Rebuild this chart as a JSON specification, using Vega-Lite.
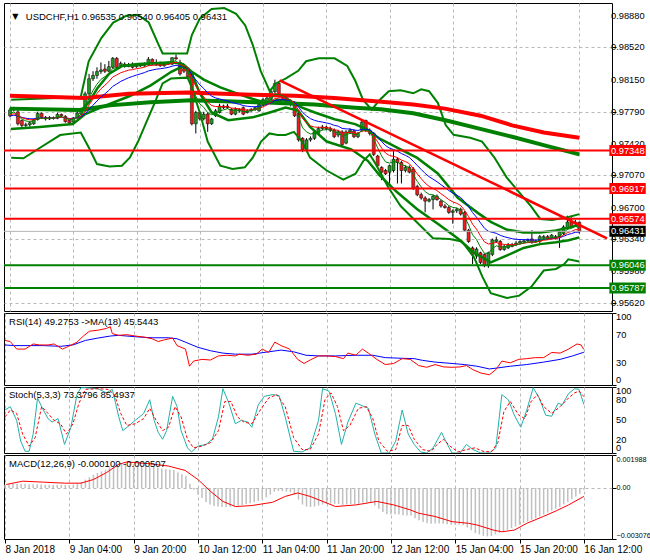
{
"$schema":"https://vega.github.io/schema/vega-lite/v6.json",
"padding":{"left":2,"top":2,"right":0,"bottom":0},
"spacing":2,
"bounds":"flush",
"background":"white",
"config":{"view":{"stroke":"#000000","strokeWidth":1},"font":"Liberation Sans",
"axis":{"labelFont":"Liberation Sans","labelFontSize":9.3,"labelColor":"#000000","tickColor":"#000000","domain":false,"gridColor":"#b8b8b8","gridDash":[3,3],"gridWidth":1},
"text":{"font":"Liberation Sans"}},
"datasets":{
"bars":[
{"i":0,"o":0.97744,"h":0.97836,"l":0.97726,"c":0.9781,"g":0.9777,"r":0.97754,"b":0.9774,"m":0.0002},
{"i":1,"o":0.9781,"h":0.97845,"l":0.97795,"c":0.97825,"g":0.97788,"r":0.97768,"b":0.97751,"m":0.00022},
{"i":2,"o":0.97788,"h":0.9781,"l":0.97634,"c":0.97653,"g":0.97743,"r":0.97745,"b":0.97739,"m":0.00024},
{"i":3,"o":0.9769,"h":0.977,"l":0.97598,"c":0.97634,"g":0.97707,"r":0.97723,"b":0.97726,"m":0.00025},
{"i":4,"o":0.97634,"h":0.97665,"l":0.97598,"c":0.97642,"g":0.97685,"r":0.97707,"b":0.97716,"m":0.00025},
{"i":5,"o":0.97642,"h":0.9768,"l":0.9762,"c":0.97664,"g":0.97678,"r":0.97698,"b":0.9771,"m":0.00024},
{"i":6,"o":0.97653,"h":0.9771,"l":0.9764,"c":0.977,"g":0.97685,"r":0.97698,"b":0.97709,"m":0.00023},
{"i":7,"o":0.977,"h":0.9779,"l":0.9769,"c":0.9777,"g":0.97713,"r":0.97712,"b":0.97717,"m":0.00023},
{"i":8,"o":0.9777,"h":0.9778,"l":0.9771,"c":0.97726,"g":0.97717,"r":0.97715,"b":0.97718,"m":0.00022},
{"i":9,"o":0.97726,"h":0.9774,"l":0.9769,"c":0.97708,"g":0.97714,"r":0.97714,"b":0.97717,"m":0.00021},
{"i":10,"o":0.97708,"h":0.9774,"l":0.97695,"c":0.97722,"g":0.97717,"r":0.97716,"b":0.97718,"m":0.0002},
{"i":11,"o":0.97722,"h":0.97735,"l":0.977,"c":0.97715,"g":0.97716,"r":0.97716,"b":0.97718,"m":0.0002},
{"i":12,"o":0.97715,"h":0.9778,"l":0.97705,"c":0.97759,"g":0.9773,"r":0.97725,"b":0.97723,"m":0.0002},
{"i":13,"o":0.97759,"h":0.9777,"l":0.9773,"c":0.97744,"g":0.97735,"r":0.97729,"b":0.97726,"m":0.0002},
{"i":14,"o":0.97737,"h":0.9775,"l":0.97665,"c":0.97678,"g":0.97716,"r":0.97719,"b":0.9772,"m":0.00019},
{"i":15,"o":0.9769,"h":0.977,"l":0.97642,"c":0.97664,"g":0.97699,"r":0.97708,"b":0.97713,"m":0.00018},
{"i":16,"o":0.97671,"h":0.9773,"l":0.9766,"c":0.97719,"g":0.97706,"r":0.9771,"b":0.97714,"m":0.00018},
{"i":17,"o":0.97719,"h":0.9779,"l":0.9771,"c":0.97774,"g":0.97729,"r":0.97723,"b":0.97722,"m":0.0002},
{"i":18,"o":0.97763,"h":0.97836,"l":0.9775,"c":0.97818,"g":0.97759,"r":0.97742,"b":0.97734,"m":0.00025},
{"i":19,"o":0.978,"h":0.98019,"l":0.9779,"c":0.97993,"g":0.97837,"r":0.97792,"b":0.97766,"m":0.00035},
{"i":20,"o":0.97993,"h":0.9822,"l":0.9797,"c":0.98165,"g":0.97946,"r":0.97867,"b":0.97816,"m":0.0005},
{"i":21,"o":0.98165,"h":0.9825,"l":0.9814,"c":0.98202,"g":0.98031,"r":0.97934,"b":0.97864,"m":0.00065},
{"i":22,"o":0.98202,"h":0.98294,"l":0.98165,"c":0.98246,"g":0.98103,"r":0.97996,"b":0.97912,"m":0.0008},
{"i":23,"o":0.98246,"h":0.9835,"l":0.9822,"c":0.98264,"g":0.98157,"r":0.9805,"b":0.97956,"m":0.0009},
{"i":24,"o":0.98275,"h":0.9833,"l":0.9823,"c":0.9825,"g":0.98188,"r":0.9809,"b":0.97993,"m":0.001},
{"i":25,"o":0.9825,"h":0.98367,"l":0.9824,"c":0.98301,"g":0.98226,"r":0.98132,"b":0.98032,"m":0.0011},
{"i":26,"o":0.98294,"h":0.98411,"l":0.9828,"c":0.98396,"g":0.98283,"r":0.98185,"b":0.98078,"m":0.00125},
{"i":27,"o":0.98396,"h":0.98411,"l":0.98265,"c":0.98294,"g":0.98287,"r":0.98207,"b":0.98105,"m":0.00135},
{"i":28,"o":0.98312,"h":0.9836,"l":0.983,"c":0.98338,"g":0.98304,"r":0.98233,"b":0.98134,"m":0.00142},
{"i":29,"o":0.9833,"h":0.9835,"l":0.9829,"c":0.98305,"g":0.98304,"r":0.98247,"b":0.98155,"m":0.00146},
{"i":30,"o":0.98305,"h":0.98345,"l":0.98295,"c":0.98323,"g":0.9831,"r":0.98262,"b":0.98176,"m":0.00148},
{"i":31,"o":0.9833,"h":0.9835,"l":0.9828,"c":0.98294,"g":0.98305,"r":0.98268,"b":0.98191,"m":0.00146},
{"i":32,"o":0.98301,"h":0.9834,"l":0.9829,"c":0.98323,"g":0.98311,"r":0.98279,"b":0.98207,"m":0.00144},
{"i":33,"o":0.98323,"h":0.9834,"l":0.983,"c":0.98312,"g":0.98311,"r":0.98286,"b":0.9822,"m":0.00141},
{"i":34,"o":0.98312,"h":0.9835,"l":0.983,"c":0.9833,"g":0.98317,"r":0.98295,"b":0.98234,"m":0.00138},
{"i":35,"o":0.98323,"h":0.98411,"l":0.9831,"c":0.98385,"g":0.9834,"r":0.98313,"b":0.98253,"m":0.00136},
{"i":36,"o":0.98385,"h":0.98395,"l":0.9832,"c":0.9833,"g":0.98337,"r":0.98316,"b":0.98263,"m":0.00132},
{"i":37,"o":0.9832,"h":0.98385,"l":0.9831,"c":0.98345,"g":0.98339,"r":0.98322,"b":0.98273,"m":0.00128},
{"i":38,"o":0.98345,"h":0.9836,"l":0.983,"c":0.98312,"g":0.9833,"r":0.9832,"b":0.98278,"m":0.00123},
{"i":39,"o":0.98312,"h":0.98345,"l":0.983,"c":0.9833,"g":0.9833,"r":0.98322,"b":0.98285,"m":0.00118},
{"i":40,"o":0.9833,"h":0.9836,"l":0.9832,"c":0.98348,"g":0.98336,"r":0.98327,"b":0.98293,"m":0.00113},
{"i":41,"o":0.9833,"h":0.9841,"l":0.9832,"c":0.98403,"g":0.98358,"r":0.98342,"b":0.98307,"m":0.00111},
{"i":42,"o":0.98403,"h":0.9844,"l":0.9838,"c":0.9839,"g":0.98369,"r":0.98352,"b":0.98317,"m":0.00108},
{"i":43,"o":0.98349,"h":0.9838,"l":0.982,"c":0.9822,"g":0.98319,"r":0.98326,"b":0.98305,"m":0.00095},
{"i":44,"o":0.9828,"h":0.983,"l":0.9823,"c":0.9825,"g":0.98296,"r":0.98311,"b":0.98298,"m":0.00082},
{"i":45,"o":0.9826,"h":0.9829,"l":0.9816,"c":0.98184,"g":0.98259,"r":0.98285,"b":0.98284,"m":0.0007},
{"i":46,"o":0.9822,"h":0.9823,"l":0.97634,"c":0.97653,"g":0.98057,"r":0.98159,"b":0.98205,"m":0.00025},
{"i":47,"o":0.97653,"h":0.978,"l":0.97543,"c":0.97781,"g":0.97965,"r":0.98083,"b":0.98152,"m":-0.0001},
{"i":48,"o":0.97781,"h":0.978,"l":0.9769,"c":0.97708,"g":0.97879,"r":0.98008,"b":0.98096,"m":-0.0004},
{"i":49,"o":0.97708,"h":0.9779,"l":0.9769,"c":0.97763,"g":0.9784,"r":0.97959,"b":0.98054,"m":-0.0006},
{"i":50,"o":0.97763,"h":0.9778,"l":0.97561,"c":0.97653,"g":0.97778,"r":0.97898,"b":0.98004,"m":-0.00085},
{"i":51,"o":0.97653,"h":0.9772,"l":0.9764,"c":0.97708,"g":0.97755,"r":0.9786,"b":0.97967,"m":-0.001},
{"i":52,"o":0.97744,"h":0.9782,"l":0.9773,"c":0.978,"g":0.9777,"r":0.97848,"b":0.97946,"m":-0.00108},
{"i":53,"o":0.97781,"h":0.9788,"l":0.9777,"c":0.97854,"g":0.97798,"r":0.97849,"b":0.97935,"m":-0.00112},
{"i":54,"o":0.97854,"h":0.9787,"l":0.9782,"c":0.97836,"g":0.97811,"r":0.97846,"b":0.97923,"m":-0.00115},
{"i":55,"o":0.97836,"h":0.9788,"l":0.9782,"c":0.97854,"g":0.97825,"r":0.97848,"b":0.97914,"m":-0.00115},
{"i":56,"o":0.97817,"h":0.9783,"l":0.9775,"c":0.97762,"g":0.97804,"r":0.97831,"b":0.97895,"m":-0.00113},
{"i":57,"o":0.97762,"h":0.9784,"l":0.9775,"c":0.97817,"g":0.97808,"r":0.97828,"b":0.97885,"m":-0.0011},
{"i":58,"o":0.97817,"h":0.9783,"l":0.9778,"c":0.97799,"g":0.97805,"r":0.97822,"b":0.97874,"m":-0.00106},
{"i":59,"o":0.97836,"h":0.9785,"l":0.9775,"c":0.97762,"g":0.97791,"r":0.9781,"b":0.9786,"m":-0.00102},
{"i":60,"o":0.9778,"h":0.9782,"l":0.9777,"c":0.97799,"g":0.97794,"r":0.97808,"b":0.97852,"m":-0.00097},
{"i":61,"o":0.97799,"h":0.9783,"l":0.9779,"c":0.97817,"g":0.97802,"r":0.9781,"b":0.97848,"m":-0.00092},
{"i":62,"o":0.97817,"h":0.9785,"l":0.978,"c":0.97836,"g":0.97813,"r":0.97815,"b":0.97846,"m":-0.00086},
{"i":63,"o":0.97799,"h":0.9789,"l":0.9779,"c":0.97872,"g":0.97833,"r":0.97826,"b":0.97852,"m":-0.00078},
{"i":64,"o":0.97872,"h":0.9795,"l":0.9786,"c":0.97927,"g":0.97864,"r":0.97846,"b":0.97861,"m":-0.00068},
{"i":65,"o":0.97891,"h":0.9798,"l":0.9788,"c":0.97946,"g":0.97891,"r":0.97866,"b":0.97872,"m":-0.00056},
{"i":66,"o":0.97927,"h":0.9804,"l":0.9792,"c":0.98019,"g":0.97934,"r":0.97897,"b":0.9789,"m":-0.0004},
{"i":67,"o":0.98019,"h":0.98154,"l":0.98,"c":0.9811,"g":0.97993,"r":0.9794,"b":0.97918,"m":-0.00022},
{"i":68,"o":0.9811,"h":0.9813,"l":0.9795,"c":0.97964,"g":0.97983,"r":0.97945,"b":0.97924,"m":-0.00018},
{"i":69,"o":0.97964,"h":0.9799,"l":0.9792,"c":0.97946,"g":0.97971,"r":0.97945,"b":0.97927,"m":-0.00018},
{"i":70,"o":0.97946,"h":0.9796,"l":0.9787,"c":0.97891,"g":0.97944,"r":0.97934,"b":0.97922,"m":-0.00022},
{"i":71,"o":0.97891,"h":0.9793,"l":0.9785,"c":0.97872,"g":0.9792,"r":0.97922,"b":0.97916,"m":-0.00026},
{"i":72,"o":0.97891,"h":0.9791,"l":0.9773,"c":0.97744,"g":0.97861,"r":0.97886,"b":0.97895,"m":-0.0004},
{"i":73,"o":0.97762,"h":0.97781,"l":0.9745,"c":0.9747,"g":0.97731,"r":0.97803,"b":0.97842,"m":-0.0007},
{"i":74,"o":0.97488,"h":0.975,"l":0.9733,"c":0.9736,"g":0.97607,"r":0.97714,"b":0.97782,"m":-0.001},
{"i":75,"o":0.9736,"h":0.9749,"l":0.9733,"c":0.9747,"g":0.97561,"r":0.97665,"b":0.97743,"m":-0.00112},
{"i":76,"o":0.9747,"h":0.9751,"l":0.9745,"c":0.97488,"g":0.97537,"r":0.9763,"b":0.97711,"m":-0.00115},
{"i":77,"o":0.97488,"h":0.9758,"l":0.9747,"c":0.97561,"g":0.97545,"r":0.97616,"b":0.97692,"m":-0.00112},
{"i":78,"o":0.97543,"h":0.9762,"l":0.9753,"c":0.97598,"g":0.97563,"r":0.97612,"b":0.9768,"m":-0.00106},
{"i":79,"o":0.97598,"h":0.9764,"l":0.9758,"c":0.97616,"g":0.97581,"r":0.97613,"b":0.97672,"m":-0.001},
{"i":80,"o":0.97616,"h":0.9763,"l":0.9758,"c":0.97598,"g":0.97587,"r":0.9761,"b":0.97663,"m":-0.00096},
{"i":81,"o":0.97598,"h":0.9762,"l":0.9756,"c":0.9758,"g":0.97585,"r":0.97604,"b":0.97653,"m":-0.00094},
{"i":82,"o":0.9758,"h":0.976,"l":0.9749,"c":0.97506,"g":0.97559,"r":0.97584,"b":0.97635,"m":-0.00096},
{"i":83,"o":0.97525,"h":0.9758,"l":0.975,"c":0.97561,"g":0.9756,"r":0.9758,"b":0.97626,"m":-0.00096},
{"i":84,"o":0.97561,"h":0.9758,"l":0.974,"c":0.97415,"g":0.97512,"r":0.97547,"b":0.976,"m":-0.00102},
{"i":85,"o":0.97433,"h":0.9758,"l":0.9742,"c":0.97561,"g":0.97528,"r":0.9755,"b":0.97595,"m":-0.001},
{"i":86,"o":0.97561,"h":0.976,"l":0.9754,"c":0.9758,"g":0.97545,"r":0.97556,"b":0.97593,"m":-0.00097},
{"i":87,"o":0.9757,"h":0.9759,"l":0.9749,"c":0.97506,"g":0.97532,"r":0.97546,"b":0.97582,"m":-0.00097},
{"i":88,"o":0.97506,"h":0.9756,"l":0.9749,"c":0.97543,"g":0.97536,"r":0.97545,"b":0.97577,"m":-0.00095},
{"i":89,"o":0.9758,"h":0.9769,"l":0.9756,"c":0.97671,"g":0.97581,"r":0.9757,"b":0.97589,"m":-0.00088},
{"i":90,"o":0.9769,"h":0.977,"l":0.9756,"c":0.9758,"g":0.97581,"r":0.97572,"b":0.97588,"m":-0.00086},
{"i":91,"o":0.9758,"h":0.976,"l":0.9752,"c":0.97543,"g":0.97568,"r":0.97566,"b":0.97582,"m":-0.00088},
{"i":92,"o":0.97543,"h":0.9756,"l":0.97287,"c":0.97305,"g":0.9748,"r":0.97514,"b":0.97547,"m":-0.00105},
{"i":93,"o":0.97287,"h":0.973,"l":0.9716,"c":0.97177,"g":0.97379,"r":0.97447,"b":0.97501,"m":-0.00125},
{"i":94,"o":0.97158,"h":0.9717,"l":0.97012,"c":0.97103,"g":0.97287,"r":0.97378,"b":0.97451,"m":-0.00145},
{"i":95,"o":0.97122,"h":0.9714,"l":0.9707,"c":0.97085,"g":0.9722,"r":0.9732,"b":0.97405,"m":-0.00158},
{"i":96,"o":0.97103,"h":0.9719,"l":0.96975,"c":0.97177,"g":0.97206,"r":0.97291,"b":0.97376,"m":-0.0016},
{"i":97,"o":0.97122,"h":0.97342,"l":0.971,"c":0.9725,"g":0.97221,"r":0.97283,"b":0.9736,"m":-0.00158},
{"i":98,"o":0.9725,"h":0.9727,"l":0.96975,"c":0.97213,"g":0.97218,"r":0.97269,"b":0.97342,"m":-0.0016},
{"i":99,"o":0.97213,"h":0.9723,"l":0.96975,"c":0.97122,"g":0.97186,"r":0.9724,"b":0.97315,"m":-0.00165},
{"i":100,"o":0.97122,"h":0.9718,"l":0.971,"c":0.97158,"g":0.97177,"r":0.97224,"b":0.97295,"m":-0.00166},
{"i":101,"o":0.97158,"h":0.9718,"l":0.9709,"c":0.97103,"g":0.97152,"r":0.972,"b":0.97271,"m":-0.00168},
{"i":102,"o":0.9714,"h":0.9716,"l":0.969,"c":0.9692,"g":0.97075,"r":0.97144,"b":0.97227,"m":-0.00182},
{"i":103,"o":0.96939,"h":0.9696,"l":0.9683,"c":0.96847,"g":0.96999,"r":0.97085,"b":0.9718,"m":-0.00195},
{"i":104,"o":0.96847,"h":0.9687,"l":0.9679,"c":0.9681,"g":0.96936,"r":0.9703,"b":0.97134,"m":-0.00205},
{"i":105,"o":0.9681,"h":0.9683,"l":0.96646,"c":0.96774,"g":0.96882,"r":0.96979,"b":0.97089,"m":-0.00212},
{"i":106,"o":0.96774,"h":0.9681,"l":0.9676,"c":0.96792,"g":0.96852,"r":0.96942,"b":0.97052,"m":-0.00215},
{"i":107,"o":0.96792,"h":0.9685,"l":0.9668,"c":0.96829,"g":0.96844,"r":0.96919,"b":0.97024,"m":-0.00214},
{"i":108,"o":0.96829,"h":0.9685,"l":0.9678,"c":0.96792,"g":0.96827,"r":0.96894,"b":0.96995,"m":-0.00214},
{"i":109,"o":0.96774,"h":0.9679,"l":0.967,"c":0.96719,"g":0.96791,"r":0.96859,"b":0.96961,"m":-0.00216},
{"i":110,"o":0.96719,"h":0.9674,"l":0.9669,"c":0.96701,"g":0.96761,"r":0.96827,"b":0.96929,"m":-0.00218},
{"i":111,"o":0.96701,"h":0.9672,"l":0.9663,"c":0.96646,"g":0.96723,"r":0.96791,"b":0.96894,"m":-0.00222},
{"i":112,"o":0.96646,"h":0.9668,"l":0.96517,"c":0.96664,"g":0.96703,"r":0.96766,"b":0.96865,"m":-0.00223},
{"i":113,"o":0.96664,"h":0.967,"l":0.9664,"c":0.96682,"g":0.96696,"r":0.96749,"b":0.96842,"m":-0.00222},
{"i":114,"o":0.96682,"h":0.967,"l":0.9661,"c":0.96627,"g":0.96673,"r":0.96725,"b":0.96815,"m":-0.00224},
{"i":115,"o":0.96646,"h":0.9666,"l":0.9643,"c":0.96444,"g":0.96597,"r":0.96669,"b":0.96769,"m":-0.00238},
{"i":116,"o":0.96444,"h":0.9646,"l":0.963,"c":0.96316,"g":0.96503,"r":0.96598,"b":0.96712,"m":-0.00255},
{"i":117,"o":0.96243,"h":0.9626,"l":0.9606,"c":0.96169,"g":0.96392,"r":0.96512,"b":0.96644,"m":-0.00272},
{"i":118,"o":0.9615,"h":0.9625,"l":0.9612,"c":0.9623,"g":0.96338,"r":0.96456,"b":0.96592,"m":-0.0028},
{"i":119,"o":0.96188,"h":0.962,"l":0.9606,"c":0.96078,"g":0.96251,"r":0.9638,"b":0.96528,"m":-0.00288},
{"i":120,"o":0.96169,"h":0.9618,"l":0.96023,"c":0.96041,"g":0.96181,"r":0.96312,"b":0.96467,"m":-0.00292},
{"i":121,"o":0.96041,"h":0.962,"l":0.96016,"c":0.96188,"g":0.96183,"r":0.96287,"b":0.96432,"m":-0.0029},
{"i":122,"o":0.96169,"h":0.9635,"l":0.9615,"c":0.96334,"g":0.96233,"r":0.96296,"b":0.9642,"m":-0.0028},
{"i":123,"o":0.96316,"h":0.96371,"l":0.963,"c":0.96334,"g":0.96267,"r":0.96304,"b":0.96409,"m":-0.0027},
{"i":124,"o":0.96316,"h":0.96334,"l":0.9621,"c":0.96224,"g":0.96253,"r":0.96288,"b":0.96386,"m":-0.00262},
{"i":125,"o":0.96224,"h":0.9628,"l":0.9621,"c":0.96261,"g":0.96256,"r":0.96283,"b":0.9637,"m":-0.00252},
{"i":126,"o":0.96243,"h":0.963,"l":0.9623,"c":0.96279,"g":0.96264,"r":0.96282,"b":0.96359,"m":-0.00242},
{"i":127,"o":0.96279,"h":0.963,"l":0.9625,"c":0.96261,"g":0.96263,"r":0.96278,"b":0.96347,"m":-0.00232},
{"i":128,"o":0.96279,"h":0.9632,"l":0.9627,"c":0.96298,"g":0.96275,"r":0.96282,"b":0.96341,"m":-0.00222},
{"i":129,"o":0.96298,"h":0.9633,"l":0.9628,"c":0.96316,"g":0.96289,"r":0.96289,"b":0.96338,"m":-0.00212},
{"i":130,"o":0.96309,"h":0.9634,"l":0.963,"c":0.96323,"g":0.963,"r":0.96296,"b":0.96336,"m":-0.00202},
{"i":131,"o":0.96323,"h":0.9635,"l":0.9631,"c":0.96334,"g":0.96311,"r":0.96304,"b":0.96336,"m":-0.00192},
{"i":132,"o":0.96345,"h":0.96444,"l":0.9629,"c":0.96309,"g":0.9631,"r":0.96305,"b":0.96333,"m":-0.00182},
{"i":133,"o":0.96316,"h":0.9634,"l":0.963,"c":0.9632,"g":0.96312,"r":0.96307,"b":0.96331,"m":-0.00172},
{"i":134,"o":0.96316,"h":0.9639,"l":0.963,"c":0.96371,"g":0.96332,"r":0.9632,"b":0.96336,"m":-0.0016},
{"i":135,"o":0.96353,"h":0.9639,"l":0.9634,"c":0.96371,"g":0.96345,"r":0.9633,"b":0.9634,"m":-0.00148},
{"i":136,"o":0.96371,"h":0.9639,"l":0.9634,"c":0.96353,"g":0.96348,"r":0.96335,"b":0.96342,"m":-0.00137},
{"i":137,"o":0.96353,"h":0.964,"l":0.9634,"c":0.96389,"g":0.96362,"r":0.96346,"b":0.96348,"m":-0.00125},
{"i":138,"o":0.96371,"h":0.9639,"l":0.9634,"c":0.96353,"g":0.96359,"r":0.96347,"b":0.96349,"m":-0.00114},
{"i":139,"o":0.96371,"h":0.9644,"l":0.96243,"c":0.96426,"g":0.96381,"r":0.96363,"b":0.96359,"m":-0.001},
{"i":140,"o":0.96407,"h":0.965,"l":0.9639,"c":0.96481,"g":0.96414,"r":0.96387,"b":0.96374,"m":-0.00085},
{"i":141,"o":0.96462,"h":0.96609,"l":0.9645,"c":0.96536,"g":0.96455,"r":0.96417,"b":0.96394,"m":-0.00068},
{"i":142,"o":0.96536,"h":0.9659,"l":0.9647,"c":0.96481,"g":0.96464,"r":0.9643,"b":0.96405,"m":-0.00052},
{"i":143,"o":0.96517,"h":0.9656,"l":0.965,"c":0.96536,"g":0.96488,"r":0.96451,"b":0.96421,"m":-0.00035},
{"i":144,"o":0.96535,"h":0.9654,"l":0.96405,"c":0.96431,"g":0.96469,"r":0.96447,"b":0.96422,"m":-0.0001}
],
"bands":[
{"s":"ou","i":0.3,"v":0.97927},{"s":"ou","i":17.9,"v":0.97957},{"s":"ou","i":19.9,"v":0.98363},{"s":"ou","i":23.1,"v":0.98627},{"s":"ou","i":26.1,"v":0.98803},{"s":"ou","i":29.4,"v":0.9888},{"s":"ou","i":32.3,"v":0.98891},{"s":"ou","i":35.1,"v":0.98803},{"s":"ou","i":37.6,"v":0.9855},{"s":"ou","i":38.6,"v":0.98451},{"s":"ou","i":44.8,"v":0.98451},{"s":"ou","i":46,"v":0.9866},{"s":"ou","i":48,"v":0.98847},{"s":"ou","i":51,"v":0.98957},{"s":"ou","i":54.2,"v":0.98968},{"s":"ou","i":57.2,"v":0.98902},{"s":"ou","i":59.5,"v":0.9877},{"s":"ou","i":61.4,"v":0.9855},{"s":"ou","i":63.4,"v":0.98254},{"s":"ou","i":65.7,"v":0.98023},{"s":"ou","i":67.2,"v":0.98111},{"s":"ou","i":69.7,"v":0.98166},{"s":"ou","i":72.9,"v":0.98254},{"s":"ou","i":74.9,"v":0.98363},{"s":"ou","i":78.1,"v":0.98396},{"s":"ou","i":82.1,"v":0.98396},{"s":"ou","i":85.3,"v":0.98309},{"s":"ou","i":87.3,"v":0.98144},{"s":"ou","i":89.3,"v":0.97924},{"s":"ou","i":91.5,"v":0.97814},{"s":"ou","i":93.5,"v":0.97924},{"s":"ou","i":95.8,"v":0.98023},{"s":"ou","i":98.8,"v":0.98034},{"s":"ou","i":102,"v":0.97999},{"s":"ou","i":104,"v":0.98045},{"s":"ou","i":106,"v":0.98023},{"s":"ou","i":108.2,"v":0.97891},{"s":"ou","i":110.2,"v":0.97638},{"s":"ou","i":112.2,"v":0.97528},{"s":"ou","i":116.4,"v":0.97495},{"s":"ou","i":119.4,"v":0.97451},{"s":"ou","i":122.6,"v":0.97264},{"s":"ou","i":125.6,"v":0.97045},{"s":"ou","i":128.9,"v":0.96869},{"s":"ou","i":131.8,"v":0.96715},{"s":"ou","i":134.1,"v":0.96572},{"s":"ou","i":137.1,"v":0.96561},{"s":"ou","i":141.3,"v":0.96594},{"s":"ou","i":144,"v":0.96627},
{"s":"ol","i":0.3,"v":0.97268},{"s":"ol","i":3.4,"v":0.97261},{"s":"ol","i":7.5,"v":0.97378},{"s":"ol","i":12.7,"v":0.97525},{"s":"ol","i":17.9,"v":0.97554},{"s":"ol","i":20,"v":0.97378},{"s":"ol","i":22,"v":0.97195},{"s":"ol","i":25.2,"v":0.97169},{"s":"ol","i":28.3,"v":0.97177},{"s":"ol","i":30.3,"v":0.97268},{"s":"ol","i":32.4,"v":0.97451},{"s":"ol","i":34.5,"v":0.97671},{"s":"ol","i":36.6,"v":0.97891},{"s":"ol","i":38.6,"v":0.98111},{"s":"ol","i":40.7,"v":0.98166},{"s":"ol","i":44.9,"v":0.98177},{"s":"ol","i":45.9,"v":0.98074},{"s":"ol","i":48,"v":0.97781},{"s":"ol","i":50,"v":0.97451},{"s":"ol","i":53.2,"v":0.97177},{"s":"ol","i":56.3,"v":0.9714},{"s":"ol","i":59.4,"v":0.97158},{"s":"ol","i":61.4,"v":0.97268},{"s":"ol","i":63.5,"v":0.97451},{"s":"ol","i":65.6,"v":0.97543},{"s":"ol","i":67.7,"v":0.97525},{"s":"ol","i":69.7,"v":0.97525},{"s":"ol","i":71.8,"v":0.97561},{"s":"ol","i":73.9,"v":0.97451},{"s":"ol","i":75.9,"v":0.97268},{"s":"ol","i":80.1,"v":0.97122},{"s":"ol","i":84.3,"v":0.97019},{"s":"ol","i":87.4,"v":0.97085},{"s":"ol","i":89.4,"v":0.97232},{"s":"ol","i":91,"v":0.97305},{"s":"ol","i":92.5,"v":0.97195},{"s":"ol","i":95.6,"v":0.96938},{"s":"ol","i":98.8,"v":0.96718},{"s":"ol","i":102.9,"v":0.96535},{"s":"ol","i":107,"v":0.96352},{"s":"ol","i":111.2,"v":0.96345},{"s":"ol","i":114.3,"v":0.96316},{"s":"ol","i":117.4,"v":0.96133},{"s":"ol","i":119.5,"v":0.95913},{"s":"ol","i":121.6,"v":0.95729},{"s":"ol","i":125.7,"v":0.95674},{"s":"ol","i":128.8,"v":0.95701},{"s":"ol","i":131.9,"v":0.95803},{"s":"ol","i":135,"v":0.95986},{"s":"ol","i":138.1,"v":0.96004},{"s":"ol","i":140.2,"v":0.96059},{"s":"ol","i":141.2,"v":0.96114},{"s":"ol","i":144,"v":0.96089},
{"s":"iu","i":0.2,"v":0.97825},{"s":"iu","i":9.2,"v":0.97814},{"s":"iu","i":17.9,"v":0.97803},{"s":"iu","i":19.9,"v":0.97891},{"s":"iu","i":22.1,"v":0.98056},{"s":"iu","i":25.1,"v":0.98221},{"s":"iu","i":28.4,"v":0.98309},{"s":"iu","i":32.3,"v":0.98331},{"s":"iu","i":36.6,"v":0.98341},{"s":"iu","i":40.8,"v":0.98352},{"s":"iu","i":43.8,"v":0.98331},{"s":"iu","i":46,"v":0.98243},{"s":"iu","i":49,"v":0.98155},{"s":"iu","i":53.2,"v":0.98067},{"s":"iu","i":57.2,"v":0.98001},{"s":"iu","i":61.4,"v":0.97935},{"s":"iu","i":64.7,"v":0.97891},{"s":"iu","i":67.7,"v":0.97924},{"s":"iu","i":70.9,"v":0.97913},{"s":"iu","i":73.9,"v":0.97836},{"s":"iu","i":77.1,"v":0.97781},{"s":"iu","i":82.1,"v":0.97704},{"s":"iu","i":87.3,"v":0.97649},{"s":"iu","i":90.5,"v":0.97583},{"s":"iu","i":93.5,"v":0.97484},{"s":"iu","i":97.8,"v":0.97385},{"s":"iu","i":103,"v":0.97265},{"s":"iu","i":108.2,"v":0.97089},{"s":"iu","i":113.2,"v":0.96814},{"s":"iu","i":118.4,"v":0.96638},{"s":"iu","i":121.6,"v":0.96539},{"s":"iu","i":125.6,"v":0.96451},{"s":"iu","i":129.9,"v":0.96418},{"s":"iu","i":134.1,"v":0.96418},{"s":"iu","i":138.1,"v":0.9644},{"s":"iu","i":141.3,"v":0.96473},{"s":"iu","i":144,"v":0.96506},
{"s":"il","i":0.2,"v":0.97594},{"s":"il","i":7.5,"v":0.97616},{"s":"il","i":15.9,"v":0.97649},{"s":"il","i":18.9,"v":0.97759},{"s":"il","i":24.1,"v":0.97858},{"s":"il","i":30.3,"v":0.97968},{"s":"il","i":35.6,"v":0.98089},{"s":"il","i":40.8,"v":0.98243},{"s":"il","i":43.8,"v":0.98309},{"s":"il","i":46,"v":0.98221},{"s":"il","i":48,"v":0.98001},{"s":"il","i":51,"v":0.97781},{"s":"il","i":55.2,"v":0.97693},{"s":"il","i":61.4,"v":0.97726},{"s":"il","i":65.7,"v":0.97781},{"s":"il","i":69.7,"v":0.97836},{"s":"il","i":72.9,"v":0.97803},{"s":"il","i":75.9,"v":0.97616},{"s":"il","i":80.1,"v":0.97451},{"s":"il","i":86.3,"v":0.97363},{"s":"il","i":90.5,"v":0.97232},{"s":"il","i":93.5,"v":0.97067},{"s":"il","i":97.8,"v":0.9688},{"s":"il","i":103,"v":0.96682},{"s":"il","i":108.2,"v":0.96517},{"s":"il","i":113.2,"v":0.96352},{"s":"il","i":117.4,"v":0.96188},{"s":"il","i":121.6,"v":0.96078},{"s":"il","i":125.6,"v":0.96155},{"s":"il","i":129.9,"v":0.96242},{"s":"il","i":134.1,"v":0.96286},{"s":"il","i":138.1,"v":0.96308},{"s":"il","i":141.3,"v":0.9633},{"s":"il","i":144,"v":0.96363},
{"s":"m1","i":0,"v":0.97972},{"s":"m1","i":19,"v":0.97946},{"s":"m1","i":30,"v":0.97994},{"s":"m1","i":45,"v":0.98008},{"s":"m1","i":61,"v":0.97983},{"s":"m1","i":72,"v":0.97972},{"s":"m1","i":82,"v":0.97946},{"s":"m1","i":94,"v":0.97902},{"s":"m1","i":102,"v":0.97872},{"s":"m1","i":110,"v":0.97825},{"s":"m1","i":119,"v":0.97745},{"s":"m1","i":127,"v":0.97635},{"s":"m1","i":135,"v":0.97554},{"s":"m1","i":144,"v":0.97495},
{"s":"m2","i":0,"v":0.97825},{"s":"m2","i":17.9,"v":0.9781},{"s":"m2","i":25.2,"v":0.97862},{"s":"m2","i":35.5,"v":0.97898},{"s":"m2","i":45.9,"v":0.9792},{"s":"m2","i":56.2,"v":0.97906},{"s":"m2","i":66.6,"v":0.97891},{"s":"m2","i":77,"v":0.97873},{"s":"m2","i":87.3,"v":0.97836},{"s":"m2","i":93.8,"v":0.97817},{"s":"m2","i":102,"v":0.97773},{"s":"m2","i":110.4,"v":0.9769},{"s":"m2","i":118.7,"v":0.97598},{"s":"m2","i":127,"v":0.97506},{"s":"m2","i":135.2,"v":0.97407},{"s":"m2","i":144,"v":0.97305}
],
"levels":[{"v":0.97348,"k":"res"},{"v":0.96917,"k":"res"},{"v":0.96574,"k":"res"},{"v":0.96431,"k":"cur"},{"v":0.96046,"k":"sup"},{"v":0.95787,"k":"sup"}],
"pticks":[{"v":0.9888},{"v":0.9852},{"v":0.9815},{"v":0.9779},{"v":0.9742},{"v":0.9707},{"v":0.967},{"v":0.9634},{"v":0.9598},{"v":0.9562}],
"rticks":[{"v":0},{"v":30},{"v":70},{"v":100}],
"sticks":[{"v":0},{"v":20},{"v":50},{"v":80},{"v":100}],
"trend":[{"i":68.2,"v":0.98147},{"i":151,"v":0.96352}],
"rsi":[
{"k":"rsi","i":0,"v":61.9},{"k":"rsi","i":1.3,"v":60.4},{"k":"rsi","i":2.9,"v":49.9},{"k":"rsi","i":5,"v":49.9},{"k":"rsi","i":7,"v":57},{"k":"rsi","i":8.6,"v":55.6},{"k":"rsi","i":10.7,"v":55.6},{"k":"rsi","i":12.2,"v":57},{"k":"rsi","i":14.3,"v":49.9},{"k":"rsi","i":15.8,"v":53.7},{"k":"rsi","i":17.9,"v":59.5},{"k":"rsi","i":19.5,"v":68},{"k":"rsi","i":21,"v":74.7},{"k":"rsi","i":23.1,"v":76.1},{"k":"rsi","i":25.2,"v":78.5},{"k":"rsi","i":26.2,"v":80.9},{"k":"rsi","i":26.7,"v":71.3},{"k":"rsi","i":28.3,"v":69},{"k":"rsi","i":30.3,"v":69.9},{"k":"rsi","i":32.4,"v":68},{"k":"rsi","i":34.5,"v":66.6},{"k":"rsi","i":36.6,"v":64.2},{"k":"rsi","i":38.1,"v":60.4},{"k":"rsi","i":39.7,"v":62.8},{"k":"rsi","i":41.7,"v":65.2},{"k":"rsi","i":42.8,"v":54.7},{"k":"rsi","i":44.9,"v":49.9},{"k":"rsi","i":45.9,"v":26.1},{"k":"rsi","i":46.9,"v":33.2},{"k":"rsi","i":49,"v":35.6},{"k":"rsi","i":51.1,"v":34.7},{"k":"rsi","i":53.1,"v":40.4},{"k":"rsi","i":55.2,"v":41.3},{"k":"rsi","i":57.3,"v":40.4},{"k":"rsi","i":58.3,"v":42.8},{"k":"rsi","i":60.4,"v":41.3},{"k":"rsi","i":62.5,"v":42.8},{"k":"rsi","i":64,"v":49.9},{"k":"rsi","i":65.6,"v":45.2},{"k":"rsi","i":67.1,"v":59.5},{"k":"rsi","i":68.7,"v":54.7},{"k":"rsi","i":70.8,"v":49.9},{"k":"rsi","i":72.8,"v":35.6},{"k":"rsi","i":74.4,"v":29.9},{"k":"rsi","i":75.9,"v":34.7},{"k":"rsi","i":78,"v":40.4},{"k":"rsi","i":80.1,"v":40.4},{"k":"rsi","i":82.2,"v":39.5},{"k":"rsi","i":84.2,"v":36.6},{"k":"rsi","i":85.3,"v":44.3},{"k":"rsi","i":87.3,"v":41.3},{"k":"rsi","i":88.9,"v":49.9},{"k":"rsi","i":90.4,"v":44.3},{"k":"rsi","i":92.5,"v":35.6},{"k":"rsi","i":94.6,"v":28.4},{"k":"rsi","i":96.7,"v":29.9},{"k":"rsi","i":98.8,"v":36.6},{"k":"rsi","i":100.8,"v":35.6},{"k":"rsi","i":102.9,"v":27},{"k":"rsi","i":104.9,"v":24.6},{"k":"rsi","i":107,"v":28.4},{"k":"rsi","i":109.1,"v":25.1},{"k":"rsi","i":111.2,"v":24.6},{"k":"rsi","i":113.2,"v":25.1},{"k":"rsi","i":114.8,"v":27},{"k":"rsi","i":116.4,"v":21.3},{"k":"rsi","i":118.4,"v":16.6},{"k":"rsi","i":120.5,"v":14.2},{"k":"rsi","i":122.1,"v":21.3},{"k":"rsi","i":123.6,"v":33.2},{"k":"rsi","i":125.7,"v":30.8},{"k":"rsi","i":127.8,"v":35.6},{"k":"rsi","i":129.8,"v":36.6},{"k":"rsi","i":131.9,"v":38},{"k":"rsi","i":134,"v":38},{"k":"rsi","i":136,"v":45.2},{"k":"rsi","i":138.1,"v":44.3},{"k":"rsi","i":140.2,"v":49.9},{"k":"rsi","i":142.3,"v":57},{"k":"rsi","i":143.3,"v":55.6},{"k":"rsi","i":144,"v":49.3},
{"k":"ma","i":0,"v":55.6},{"k":"ma","i":2.4,"v":54.7},{"k":"ma","i":5.5,"v":54.7},{"k":"ma","i":9.6,"v":54.7},{"k":"ma","i":13.8,"v":53.7},{"k":"ma","i":16.9,"v":55.6},{"k":"ma","i":20,"v":61.9},{"k":"ma","i":23.1,"v":65.2},{"k":"ma","i":26.2,"v":68},{"k":"ma","i":28.3,"v":69},{"k":"ma","i":30.3,"v":68},{"k":"ma","i":33.5,"v":66.6},{"k":"ma","i":36.6,"v":65.6},{"k":"ma","i":40.7,"v":65.6},{"k":"ma","i":42.8,"v":64.2},{"k":"ma","i":44.9,"v":59.5},{"k":"ma","i":48,"v":52.3},{"k":"ma","i":51.1,"v":47.6},{"k":"ma","i":54.2,"v":44.3},{"k":"ma","i":57.3,"v":42.8},{"k":"ma","i":61.4,"v":42.8},{"k":"ma","i":65.6,"v":46.1},{"k":"ma","i":68.7,"v":48.5},{"k":"ma","i":71.8,"v":46.1},{"k":"ma","i":74.9,"v":41.3},{"k":"ma","i":78,"v":40.4},{"k":"ma","i":82.2,"v":40.4},{"k":"ma","i":87.3,"v":41.3},{"k":"ma","i":91.5,"v":41.3},{"k":"ma","i":94.6,"v":38},{"k":"ma","i":98.8,"v":37.1},{"k":"ma","i":101.8,"v":36.6},{"k":"ma","i":103.9,"v":34.2},{"k":"ma","i":107,"v":31.8},{"k":"ma","i":111.2,"v":29.9},{"k":"ma","i":114.3,"v":28.4},{"k":"ma","i":117.4,"v":26.1},{"k":"ma","i":120.5,"v":22.3},{"k":"ma","i":122.6,"v":23.7},{"k":"ma","i":125.7,"v":26.1},{"k":"ma","i":129.8,"v":28.4},{"k":"ma","i":134,"v":31.8},{"k":"ma","i":138.1,"v":35.6},{"k":"ma","i":141.2,"v":40.4},{"k":"ma","i":144,"v":45.5}
],
"stoch":[
{"k":"main","i":0,"v":65.1},{"k":"main","i":1.3,"v":70.3},{"k":"main","i":2.9,"v":49.5},{"k":"main","i":3.9,"v":18.2},{"k":"main","i":5,"v":2.6},{"k":"main","i":6,"v":2.6},{"k":"main","i":7,"v":28.6},{"k":"main","i":8.1,"v":83.3},{"k":"main","i":9.1,"v":70.3},{"k":"main","i":10.7,"v":52.1},{"k":"main","i":11.7,"v":46.9},{"k":"main","i":13.2,"v":52.1},{"k":"main","i":14.8,"v":13},{"k":"main","i":16.4,"v":39.1},{"k":"main","i":17.9,"v":88.5},{"k":"main","i":18.9,"v":98.9},{"k":"main","i":20,"v":98.9},{"k":"main","i":23.1,"v":97.4},{"k":"main","i":25.2,"v":91.1},{"k":"main","i":26.7,"v":96.4},{"k":"main","i":28.3,"v":54.7},{"k":"main","i":29.3,"v":33.9},{"k":"main","i":30.9,"v":41.7},{"k":"main","i":32.4,"v":49.5},{"k":"main","i":34.5,"v":59.9},{"k":"main","i":36,"v":80.7},{"k":"main","i":37.1,"v":49.5},{"k":"main","i":38.1,"v":31.3},{"k":"main","i":39.2,"v":20.8},{"k":"main","i":40.2,"v":33.9},{"k":"main","i":41.7,"v":85.9},{"k":"main","i":42.8,"v":70.3},{"k":"main","i":43.8,"v":33.9},{"k":"main","i":45.4,"v":7.8},{"k":"main","i":46.4,"v":1.6},{"k":"main","i":48,"v":10.4},{"k":"main","i":50,"v":13},{"k":"main","i":51.6,"v":20.8},{"k":"main","i":53.1,"v":54.7},{"k":"main","i":54.2,"v":97.4},{"k":"main","i":55.7,"v":75.5},{"k":"main","i":57.3,"v":44.3},{"k":"main","i":58.8,"v":49.5},{"k":"main","i":60.4,"v":46.9},{"k":"main","i":61.4,"v":39.1},{"k":"main","i":63,"v":72.9},{"k":"main","i":64.5,"v":85.9},{"k":"main","i":66.6,"v":88.5},{"k":"main","i":68.2,"v":86.9},{"k":"main","i":69.7,"v":54.7},{"k":"main","i":71.8,"v":2.6},{"k":"main","i":73.9,"v":1.6},{"k":"main","i":75.9,"v":7.8},{"k":"main","i":78,"v":49.5},{"k":"main","i":79,"v":97.4},{"k":"main","i":80.6,"v":93.8},{"k":"main","i":82.2,"v":59.9},{"k":"main","i":83.7,"v":13},{"k":"main","i":85.3,"v":46.9},{"k":"main","i":87.3,"v":75.5},{"k":"main","i":89.4,"v":70.3},{"k":"main","i":90.4,"v":67.7},{"k":"main","i":92,"v":28.6},{"k":"main","i":93.6,"v":0},{"k":"main","i":95.6,"v":0},{"k":"main","i":97.2,"v":18.2},{"k":"main","i":98.8,"v":65.1},{"k":"main","i":100.3,"v":28.6},{"k":"main","i":101.8,"v":13},{"k":"main","i":103.4,"v":1.6},{"k":"main","i":104.9,"v":0},{"k":"main","i":106.5,"v":7.8},{"k":"main","i":108.6,"v":31.3},{"k":"main","i":109.6,"v":18.2},{"k":"main","i":111.2,"v":0},{"k":"main","i":113.2,"v":0},{"k":"main","i":114.8,"v":13},{"k":"main","i":116.4,"v":5.2},{"k":"main","i":118.4,"v":0},{"k":"main","i":120.5,"v":0},{"k":"main","i":122.1,"v":7.8},{"k":"main","i":123.6,"v":88.5},{"k":"main","i":125.2,"v":80.7},{"k":"main","i":126.7,"v":57.3},{"k":"main","i":128.3,"v":39.1},{"k":"main","i":129.8,"v":65.1},{"k":"main","i":131.4,"v":98.9},{"k":"main","i":132.9,"v":83.3},{"k":"main","i":134.5,"v":57.3},{"k":"main","i":136,"v":55.7},{"k":"main","i":137.6,"v":75.5},{"k":"main","i":138.6,"v":72.9},{"k":"main","i":140.2,"v":90.1},{"k":"main","i":141.7,"v":97.4},{"k":"main","i":142.8,"v":96.4},{"k":"main","i":144,"v":73.4},
{"k":"sig","i":0,"v":54.7},{"k":"sig","i":1.3,"v":65.1},{"k":"sig","i":2.9,"v":59.9},{"k":"sig","i":4.4,"v":28.6},{"k":"sig","i":6,"v":10.4},{"k":"sig","i":7.5,"v":23.4},{"k":"sig","i":9.1,"v":70.3},{"k":"sig","i":10.7,"v":59.9},{"k":"sig","i":12.2,"v":49.5},{"k":"sig","i":13.8,"v":44.3},{"k":"sig","i":15.3,"v":28.6},{"k":"sig","i":16.9,"v":44.3},{"k":"sig","i":18.4,"v":75.5},{"k":"sig","i":20,"v":96.4},{"k":"sig","i":23.1,"v":97.4},{"k":"sig","i":25.7,"v":96.4},{"k":"sig","i":27.2,"v":88.5},{"k":"sig","i":28.8,"v":59.9},{"k":"sig","i":30.3,"v":41.7},{"k":"sig","i":32.4,"v":44.3},{"k":"sig","i":34.5,"v":52.1},{"k":"sig","i":36,"v":67.7},{"k":"sig","i":37.6,"v":49.5},{"k":"sig","i":39.2,"v":33.9},{"k":"sig","i":40.7,"v":39.1},{"k":"sig","i":42.3,"v":70.3},{"k":"sig","i":43.8,"v":54.7},{"k":"sig","i":45.4,"v":20.8},{"k":"sig","i":46.9,"v":7.8},{"k":"sig","i":49,"v":10.4},{"k":"sig","i":51.1,"v":15.6},{"k":"sig","i":53.1,"v":33.9},{"k":"sig","i":54.7,"v":78.1},{"k":"sig","i":56.2,"v":78.1},{"k":"sig","i":57.8,"v":54.7},{"k":"sig","i":59.4,"v":46.9},{"k":"sig","i":61.4,"v":44.3},{"k":"sig","i":63.5,"v":65.1},{"k":"sig","i":65.6,"v":83.3},{"k":"sig","i":67.6,"v":88.5},{"k":"sig","i":69.7,"v":70.3},{"k":"sig","i":71.8,"v":23.4},{"k":"sig","i":73.9,"v":5.2},{"k":"sig","i":75.9,"v":5.2},{"k":"sig","i":78,"v":28.6},{"k":"sig","i":79.6,"v":80.7},{"k":"sig","i":81.1,"v":91.1},{"k":"sig","i":82.7,"v":70.3},{"k":"sig","i":84.2,"v":33.9},{"k":"sig","i":85.8,"v":41.7},{"k":"sig","i":87.9,"v":67.7},{"k":"sig","i":89.9,"v":70.3},{"k":"sig","i":91.5,"v":52.1},{"k":"sig","i":93,"v":18.2},{"k":"sig","i":95.1,"v":2.6},{"k":"sig","i":97.2,"v":5.2},{"k":"sig","i":98.8,"v":41.7},{"k":"sig","i":100.3,"v":41.7},{"k":"sig","i":101.8,"v":20.8},{"k":"sig","i":103.9,"v":5.2},{"k":"sig","i":106,"v":2.6},{"k":"sig","i":107.5,"v":13},{"k":"sig","i":109.1,"v":20.8},{"k":"sig","i":110.7,"v":10.4},{"k":"sig","i":112.7,"v":1.6},{"k":"sig","i":114.8,"v":5.2},{"k":"sig","i":116.9,"v":7.8},{"k":"sig","i":118.9,"v":2.6},{"k":"sig","i":121,"v":1.6},{"k":"sig","i":122.6,"v":15.6},{"k":"sig","i":124.1,"v":62.5},{"k":"sig","i":125.7,"v":78.1},{"k":"sig","i":127.8,"v":57.3},{"k":"sig","i":129.3,"v":52.1},{"k":"sig","i":130.9,"v":78.1},{"k":"sig","i":132.4,"v":88.5},{"k":"sig","i":134,"v":70.3},{"k":"sig","i":136,"v":59.9},{"k":"sig","i":138.1,"v":70.3},{"k":"sig","i":140.2,"v":83.3},{"k":"sig","i":141.7,"v":91.1},{"k":"sig","i":142.8,"v":93.8},{"k":"sig","i":144,"v":85.5}
],
"macdsig":[
{"i":0.3,"v":0.00021},{"i":4.4,"v":0.00041},{"i":9.6,"v":0.00035},{"i":14.8,"v":0.00029},{"i":18.9,"v":0.00029},{"i":22,"v":0.00051},{"i":25.2,"v":0.00092},{"i":28.3,"v":0.00143},{"i":30.3,"v":0.00157},{"i":35.5,"v":0.00147},{"i":40.7,"v":0.00132},{"i":44.8,"v":0.00106},{"i":48,"v":0.00051},{"i":51.1,"v":-0.0002},{"i":54.2,"v":-0.00081},{"i":57.3,"v":-0.00112},{"i":61.4,"v":-0.00106},{"i":66.6,"v":-0.00086},{"i":69.7,"v":-0.00051},{"i":72.8,"v":-0.0003},{"i":75.9,"v":-0.00051},{"i":80.1,"v":-0.00091},{"i":82.2,"v":-0.00112},{"i":87.3,"v":-0.00102},{"i":92.5,"v":-0.00081},{"i":96.7,"v":-0.00102},{"i":100.8,"v":-0.00132},{"i":102.9,"v":-0.00152},{"i":107,"v":-0.00172},{"i":111.2,"v":-0.00203},{"i":115.3,"v":-0.00213},{"i":117.4,"v":-0.00223},{"i":121.5,"v":-0.00254},{"i":123.6,"v":-0.00264},{"i":126.7,"v":-0.00254},{"i":129.8,"v":-0.00213},{"i":133.9,"v":-0.00172},{"i":137.1,"v":-0.00138},{"i":140.2,"v":-0.00102},{"i":144,"v":-0.00051}
]
},
"vconcat":[
{"width":608,"height":308,
"layer":[
{"data":{"name":"bars"},"mark":{"type":"rule","color":"#000000","strokeWidth":1},
"encoding":{"x":{"field":"i","type":"quantitative","scale":{"domain":[-0.25,151],"nice":false,"zero":false},"axis":{"values":[0,8,16,24,32,40,48,56,64,72,80,88,96,104,112,120,128,136,144],"grid":true,"labels":false,"ticks":false,"domain":false,"title":null}},
"y":{"field":"l","type":"quantitative","scale":{"domain":[0.95583,0.98968],"nice":false,"zero":false},"axis":{"orient":"right","values":[0.9888,0.9852,0.9815,0.9779,0.9742,0.9707,0.967,0.9634,0.9598,0.9562],"labels":false,"grid":true,"tickSize":4,"domain":false,"title":null}},
"y2":{"field":"h"}}},
{"data":{"name":"bars"},"mark":{"type":"bar","width":3,"stroke":"#000000","strokeWidth":0.5},
"encoding":{"x":{"field":"i","type":"quantitative"},"y":{"field":"o","type":"quantitative"},"y2":{"field":"c"},
"fill":{"condition":{"test":"datum.c >= datum.o","value":"#229922"},"value":"#ee1c1c"}}},
{"data":{"name":"bands"},"transform":[{"filter":"datum.s == 'ou' || datum.s == 'ol'"}],"mark":{"type":"line","color":"#008000","strokeWidth":2,"clip":true},
"encoding":{"x":{"field":"i","type":"quantitative"},"y":{"field":"v","type":"quantitative"},"detail":{"field":"s","type":"nominal"}}},
{"data":{"name":"bands"},"transform":[{"filter":"datum.s == 'iu' || datum.s == 'il'"}],"mark":{"type":"line","color":"#008000","strokeWidth":2.5,"clip":true},
"encoding":{"x":{"field":"i","type":"quantitative"},"y":{"field":"v","type":"quantitative"},"detail":{"field":"s","type":"nominal"}}},
{"data":{"name":"bands"},"transform":[{"filter":"datum.s == 'm2'"}],"mark":{"type":"line","color":"#008000","strokeWidth":4,"clip":true},
"encoding":{"x":{"field":"i","type":"quantitative"},"y":{"field":"v","type":"quantitative"}}},
{"data":{"name":"bands"},"transform":[{"filter":"datum.s == 'm1'"}],"mark":{"type":"line","color":"#ff0000","strokeWidth":4,"clip":true},
"encoding":{"x":{"field":"i","type":"quantitative"},"y":{"field":"v","type":"quantitative"}}},
{"data":{"name":"bars"},"mark":{"type":"line","color":"#0000ff","strokeWidth":1,"clip":true},
"encoding":{"x":{"field":"i","type":"quantitative"},"y":{"field":"b","type":"quantitative"}}},
{"data":{"name":"bars"},"mark":{"type":"line","color":"#ff0000","strokeWidth":1,"clip":true},
"encoding":{"x":{"field":"i","type":"quantitative"},"y":{"field":"r","type":"quantitative"}}},
{"data":{"name":"bars"},"mark":{"type":"line","color":"#008000","strokeWidth":1,"clip":true},
"encoding":{"x":{"field":"i","type":"quantitative"},"y":{"field":"g","type":"quantitative"}}},
{"data":{"name":"levels"},"mark":{"type":"rule"},
"encoding":{"y":{"field":"v","type":"quantitative"},
"color":{"condition":[{"test":"datum.k == 'res'","value":"#ff0000"},{"test":"datum.k == 'sup'","value":"#008000"}],"value":"#b4b4b4"},
"strokeWidth":{"condition":{"test":"datum.k == 'cur'","value":1},"value":2}}},
{"data":{"name":"trend"},"mark":{"type":"line","color":"#ff0000","strokeWidth":2.5,"clip":true},
"encoding":{"x":{"field":"i","type":"quantitative"},"y":{"field":"v","type":"quantitative"}}},
{"data":{"name":"pticks"},"mark":{"type":"text","align":"left","baseline":"middle","fontSize":9.3,"dx":3,"color":"#000000"},
"encoding":{"x":{"datum":151.25,"type":"quantitative"},"y":{"field":"v","type":"quantitative"},"text":{"field":"v","format":".5f"}}},
{"data":{"name":"levels"},"mark":{"type":"bar","height":11},
"encoding":{"x":{"datum":151.6,"type":"quantitative"},"x2":{"datum":160.8},"y":{"field":"v","type":"quantitative"},
"fill":{"condition":[{"test":"datum.k == 'res'","value":"#ff0000"},{"test":"datum.k == 'sup'","value":"#008000"}],"value":"#000000"}}},
{"data":{"name":"levels"},"mark":{"type":"text","align":"left","baseline":"middle","fontSize":9.3,"color":"#ffffff"},
"encoding":{"x":{"datum":152,"type":"quantitative"},"y":{"field":"v","type":"quantitative"},"text":{"field":"v","format":".5f"}}},
{"data":{"values":[{"t":"▼"}]},"mark":{"type":"text","align":"left","baseline":"middle","fontSize":8,"color":"#000000","font":"DejaVu Sans"},
"encoding":{"x":{"datum":0.6,"type":"quantitative"},"y":{"datum":0.98869,"type":"quantitative"},"text":{"field":"t"}}},
{"data":{"values":[{"t":"USDCHF,H1 0.96535 0.96540 0.96405 0.96431"}]},"mark":{"type":"text","align":"left","baseline":"middle","fontSize":9.5,"color":"#000000"},
"encoding":{"x":{"datum":4,"type":"quantitative"},"y":{"datum":0.98869,"type":"quantitative"},"text":{"field":"t"}}}
]},
{"width":608,"height":72,
"layer":[
{"data":{"name":"rsi"},"transform":[{"filter":"datum.k == 'ma'"}],"mark":{"type":"line","strokeWidth":1,"color":"#0000ff","clip":true},
"encoding":{"x":{"field":"i","type":"quantitative","scale":{"domain":[-0.25,151],"nice":false,"zero":false},"axis":{"values":[0,8,16,24,32,40,48,56,64,72,80,88,96,104,112,120,128,136,144],"grid":true,"labels":false,"ticks":false,"domain":false,"title":null}},
"y":{"field":"v","type":"quantitative","scale":{"domain":[0,100],"nice":false,"zero":false},"axis":{"orient":"right","values":[0,30,70,100],"labels":false,"grid":true,"gridOpacity":{"condition":{"test":"datum.value == 30 || datum.value == 70","value":1},"value":0},"tickSize":4,"domain":false,"title":null}}}},
{"data":{"name":"rsi"},"transform":[{"filter":"datum.k == 'rsi'"}],"mark":{"type":"line","strokeWidth":1,"color":"#ff0000","clip":true},
"encoding":{"x":{"field":"i","type":"quantitative"},"y":{"field":"v","type":"quantitative"}}},
{"data":{"name":"rticks"},"transform":[{"filter":"datum.v == 100"}],"mark":{"type":"text","align":"left","baseline":"top","fontSize":9.3,"dx":3,"color":"#000000"},
"encoding":{"x":{"datum":151.25,"type":"quantitative"},"y":{"field":"v","type":"quantitative"},"text":{"field":"v","format":"d"}}},
{"data":{"name":"rticks"},"transform":[{"filter":"datum.v > 0 && datum.v < 100"}],"mark":{"type":"text","align":"left","baseline":"middle","fontSize":9.3,"dx":3,"color":"#000000"},
"encoding":{"x":{"datum":151.25,"type":"quantitative"},"y":{"field":"v","type":"quantitative"},"text":{"field":"v","format":"d"}}},
{"data":{"name":"rticks"},"transform":[{"filter":"datum.v == 0"}],"mark":{"type":"text","align":"left","baseline":"bottom","fontSize":9.3,"dx":3,"color":"#000000"},
"encoding":{"x":{"datum":151.25,"type":"quantitative"},"y":{"field":"v","type":"quantitative"},"text":{"field":"v","format":"d"}}},
{"data":{"values":[{"t":"RSI(14) 49.2753  ->MA(18) 45.5443"}]},"mark":{"type":"text","align":"left","baseline":"middle","fontSize":9.5,"color":"#000000"},
"encoding":{"x":{"datum":1,"type":"quantitative"},"y":{"datum":87.5,"type":"quantitative"},"text":{"field":"t"}}}
]},
{"width":608,"height":66,
"layer":[
{"data":{"name":"stoch"},"transform":[{"filter":"datum.k == 'main'"}],"mark":{"type":"line","strokeWidth":1,"color":"#20b2aa","clip":true},
"encoding":{"x":{"field":"i","type":"quantitative","scale":{"domain":[-0.25,151],"nice":false,"zero":false},"axis":{"values":[0,8,16,24,32,40,48,56,64,72,80,88,96,104,112,120,128,136,144],"grid":true,"labels":false,"ticks":false,"domain":false,"title":null}},
"y":{"field":"v","type":"quantitative","scale":{"domain":[0,100],"nice":false,"zero":false},"axis":{"orient":"right","values":[0,20,50,80,100],"labels":false,"grid":true,"gridOpacity":{"condition":{"test":"datum.value == 20 || datum.value == 80","value":1},"value":0},"tickSize":4,"domain":false,"title":null}}}},
{"data":{"name":"stoch"},"transform":[{"filter":"datum.k == 'sig'"}],"mark":{"type":"line","strokeWidth":1,"color":"#ff0000","strokeDash":[3,2],"clip":true},
"encoding":{"x":{"field":"i","type":"quantitative"},"y":{"field":"v","type":"quantitative"}}},
{"data":{"name":"sticks"},"transform":[{"filter":"datum.v == 100"}],"mark":{"type":"text","align":"left","baseline":"top","fontSize":9.3,"dx":3,"color":"#000000"},
"encoding":{"x":{"datum":151.25,"type":"quantitative"},"y":{"field":"v","type":"quantitative"},"text":{"field":"v","format":"d"}}},
{"data":{"name":"sticks"},"transform":[{"filter":"datum.v > 0 && datum.v < 100"}],"mark":{"type":"text","align":"left","baseline":"middle","fontSize":9.3,"dx":3,"color":"#000000"},
"encoding":{"x":{"datum":151.25,"type":"quantitative"},"y":{"field":"v","type":"quantitative"},"text":{"field":"v","format":"d"}}},
{"data":{"name":"sticks"},"transform":[{"filter":"datum.v == 0"}],"mark":{"type":"text","align":"left","baseline":"bottom","fontSize":9.3,"dx":3,"color":"#000000"},
"encoding":{"x":{"datum":151.25,"type":"quantitative"},"y":{"field":"v","type":"quantitative"},"text":{"field":"v","format":"d"}}},
{"data":{"values":[{"t":"Stoch(5,3,3) 73.3796 85.4937"}]},"mark":{"type":"text","align":"left","baseline":"middle","fontSize":9.5,"color":"#000000"},
"encoding":{"x":{"datum":1,"type":"quantitative"},"y":{"datum":87.4,"type":"quantitative"},"text":{"field":"t"}}}
]},
{"width":608,"height":84,
"layer":[
{"data":{"name":"bars"},"mark":{"type":"rule","color":"#c0c0c0","strokeWidth":1.5},
"encoding":{"x":{"field":"i","type":"quantitative","scale":{"domain":[-0.25,151],"nice":false,"zero":false},"axis":{"values":[0,8,16,24,32,40,48,56,64,72,80,88,96,104,112,120,128,136,144],"grid":true,"domain":false,"title":null,"labelExpr":"datum.value % 16 == 0 ? ['8 Jan 2018','9 Jan 04:00','9 Jan 20:00','10 Jan 12:00','11 Jan 04:00','11 Jan 20:00','12 Jan 12:00','15 Jan 04:00','15 Jan 20:00','16 Jan 12:00'][datum.value / 16] : ''","labelAlign":"left","labelFontSize":10,"labelOverlap":false,"labelFlush":false,"labelBound":false,"tickSize":4,"tickOpacity":{"condition":{"test":"datum.value % 16 == 0","value":1},"value":0},"labelPadding":1}},
"y":{"field":"m","type":"quantitative","scale":{"domain":[-0.003076,0.001988],"nice":false,"zero":false},"axis":{"orient":"right","values":[-0.003076,0,0.001988],"labelExpr":"datum.value == 0 ? '0.00' : format(datum.value, '.6f')","labelFontSize":7.2,"grid":true,"gridOpacity":{"condition":{"test":"datum.value == 0","value":1},"value":0},"tickSize":4,"labelPadding":0,"domain":false,"title":null,"labelOverlap":false,"labelBaseline":{"condition":[{"test":"datum.value > 0.001","value":"top"},{"test":"datum.value < -0.001","value":"bottom"}],"value":"middle"}}},
"y2":{"datum":0}}},
{"data":{"name":"macdsig"},"mark":{"type":"line","color":"#ff0000","strokeWidth":1,"clip":true},
"encoding":{"x":{"field":"i","type":"quantitative"},"y":{"field":"v","type":"quantitative"}}},
{"data":{"values":[{"t":"MACD(12,26,9) -0.000100 -0.000507"}]},"mark":{"type":"text","align":"left","baseline":"middle","fontSize":9.5,"color":"#000000"},
"encoding":{"x":{"datum":1,"type":"quantitative"},"y":{"datum":0.001464,"type":"quantitative"},"text":{"field":"t"}}}
]}
]
}
